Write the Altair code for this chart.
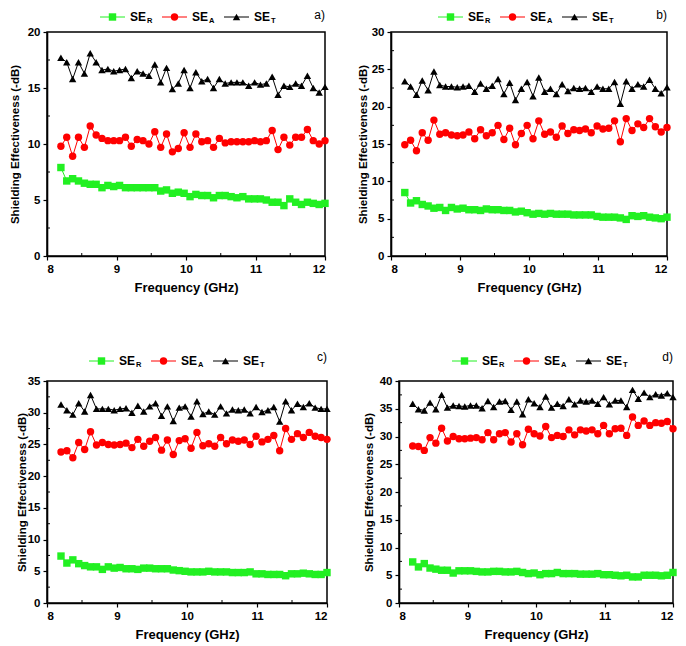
import altair as alt
import pandas as pd

freq = [8.200, 8.284, 8.369, 8.453, 8.538, 8.622, 8.707, 8.791, 8.876, 8.960,
        9.044, 9.129, 9.213, 9.298, 9.382, 9.467, 9.551, 9.636, 9.720, 9.804,
        9.889, 9.973, 10.058, 10.142, 10.227, 10.311, 10.396, 10.480, 10.564, 10.649,
        10.733, 10.818, 10.902, 10.987, 11.071, 11.156, 11.240, 11.324, 11.409, 11.493,
        11.578, 11.662, 11.747, 11.831, 11.916, 12.000]

# panel a
a_R = [7.9, 6.7, 6.9, 6.7, 6.5, 6.4, 6.4, 6.1, 6.3, 6.2, 6.3, 6.1, 6.1, 6.1, 6.1, 6.1, 6.1, 5.8, 5.9, 5.6,
       5.7, 5.6, 5.3, 5.5, 5.4, 5.4, 5.2, 5.4, 5.4, 5.3, 5.2, 5.3, 5.1, 5.1, 5.1, 5.0, 4.8, 4.8, 4.5, 5.1,
       4.8, 4.6, 4.8, 4.7, 4.6, 4.7]
a_A = [9.8, 10.6, 8.9, 10.6, 9.7, 11.6, 10.8, 10.5, 10.3, 10.3, 10.3, 10.6, 9.8, 10.4, 10.3, 10.0, 11.1, 9.7, 10.9, 9.3,
       9.6, 11.0, 9.7, 10.9, 10.2, 10.3, 9.7, 10.5, 10.1, 10.2, 10.2, 10.2, 10.2, 10.3, 10.2, 10.3, 11.2, 9.5, 10.6, 9.9,
       10.6, 10.6, 11.3, 10.3, 10.0, 10.3]
a_T = [17.7, 17.3, 15.8, 17.3, 16.3, 18.1, 17.3, 16.6, 16.7, 16.5, 16.6, 16.7, 15.9, 16.5, 16.3, 16.1, 17.1, 15.5, 16.8, 14.9,
       15.4, 16.6, 15.0, 16.4, 15.6, 15.8, 15.0, 15.8, 15.4, 15.5, 15.5, 15.5, 15.2, 15.5, 15.3, 15.4, 16.0, 14.4, 15.2, 15.1,
       15.4, 15.2, 16.1, 15.0, 14.6, 15.1]
# panel b
b_R = [8.5, 7.1, 7.4, 6.9, 6.7, 6.4, 6.5, 6.1, 6.5, 6.3, 6.4, 6.2, 6.2, 6.1, 6.3, 6.2, 6.2, 6.1, 6.1, 5.9,
       6.0, 5.8, 5.6, 5.7, 5.6, 5.7, 5.6, 5.6, 5.6, 5.5, 5.5, 5.5, 5.5, 5.3, 5.2, 5.2, 5.2, 5.1, 4.9, 5.4,
       5.3, 5.4, 5.2, 5.1, 5.0, 5.2]
b_A = [14.9, 15.5, 14.1, 16.5, 15.5, 18.2, 16.3, 16.5, 16.2, 16.1, 16.2, 16.6, 15.7, 16.9, 16.1, 16.5, 17.5, 15.6, 17.1, 14.9,
       16.4, 17.5, 15.7, 18.1, 16.3, 16.6, 15.9, 17.4, 16.4, 16.9, 16.8, 17.0, 16.5, 17.4, 17.0, 17.1, 18.1, 15.3, 18.4, 16.8,
       17.7, 17.2, 18.4, 17.3, 16.6, 17.2]
b_T = [23.4, 22.7, 21.6, 23.5, 22.2, 24.7, 22.9, 22.7, 22.7, 22.6, 22.7, 22.8, 22.0, 23.1, 22.4, 22.8, 23.7, 21.7, 23.2, 20.9,
       22.4, 23.3, 21.4, 23.9, 22.0, 22.4, 21.7, 23.0, 22.1, 22.5, 22.4, 22.5, 22.0, 22.7, 22.4, 22.4, 23.3, 20.4, 23.4, 22.4,
       23.0, 22.7, 23.6, 22.4, 21.8, 22.6]
# panel c
c_R = [7.4, 6.3, 6.8, 6.2, 5.9, 5.7, 5.7, 5.3, 5.7, 5.5, 5.6, 5.4, 5.4, 5.3, 5.5, 5.5, 5.4, 5.4, 5.4, 5.2,
       5.1, 5.0, 4.9, 4.9, 4.9, 5.0, 4.9, 4.9, 4.9, 4.8, 4.8, 4.8, 4.9, 4.6, 4.6, 4.5, 4.5, 4.5, 4.3, 4.6,
       4.6, 4.7, 4.6, 4.5, 4.5, 4.8]
c_A = [23.8, 24.0, 22.9, 25.3, 24.2, 27.0, 24.9, 25.3, 25.0, 24.9, 25.0, 25.2, 24.5, 25.8, 24.7, 25.5, 26.1, 24.1, 25.7, 23.4,
       25.6, 25.9, 24.4, 26.9, 24.8, 25.1, 24.7, 26.1, 25.1, 25.7, 25.5, 25.7, 25.0, 26.3, 25.4, 25.8, 26.4, 24.0, 27.5, 25.8,
       26.7, 26.1, 26.9, 26.3, 26.1, 25.8]
c_T = [31.3, 30.4, 29.7, 31.5, 30.2, 32.8, 30.6, 30.6, 30.6, 30.4, 30.6, 30.7, 30.0, 31.1, 30.2, 31.0, 31.5, 29.5, 31.0, 28.7,
       30.8, 31.0, 29.4, 31.8, 29.8, 30.2, 29.7, 31.0, 29.9, 30.5, 30.4, 30.5, 29.9, 30.9, 30.1, 30.4, 30.9, 28.6, 31.8, 30.4,
       31.4, 30.9, 31.5, 30.8, 30.6, 30.6]
# panel d
d_R = [7.4, 6.5, 7.1, 6.3, 6.1, 5.9, 5.9, 5.4, 5.8, 5.8, 5.8, 5.7, 5.6, 5.6, 5.7, 5.7, 5.6, 5.6, 5.7, 5.5,
       5.3, 5.4, 5.1, 5.3, 5.3, 5.5, 5.3, 5.3, 5.3, 5.2, 5.2, 5.2, 5.3, 5.1, 5.1, 5.0, 4.9, 5.0, 4.7, 4.7,
       5.0, 5.0, 5.0, 4.9, 5.0, 5.5]
d_A = [28.3, 28.2, 27.5, 29.8, 28.8, 31.5, 29.2, 30.0, 29.6, 29.6, 29.7, 29.8, 29.4, 30.7, 29.4, 30.5, 30.7, 29.0, 30.5, 28.5,
       31.3, 30.5, 30.1, 31.8, 29.8, 30.2, 30.0, 31.2, 30.3, 31.2, 31.0, 31.2, 30.5, 32.0, 30.5, 31.4, 31.5, 30.2, 33.5, 32.0,
       32.8, 32.0, 32.5, 32.4, 32.7, 31.4]
d_T = [35.9, 34.9, 34.7, 36.1, 34.9, 37.5, 35.2, 35.6, 35.5, 35.4, 35.6, 35.6, 35.1, 36.4, 35.3, 36.3, 36.4, 34.8, 36.3, 34.0,
       36.7, 36.0, 35.3, 37.2, 35.2, 35.9, 35.5, 36.7, 35.8, 36.5, 36.3, 36.5, 35.9, 37.1, 35.8, 36.5, 36.5, 35.3, 38.4, 36.8,
       37.9, 37.1, 37.6, 37.4, 37.8, 37.1]

series_names = ["SE_R", "SE_A", "SE_T"]
legend_main = ["SE", "SE", "SE"]
legend_sub = ["R", "A", "T"]
x_ticks = [8, 9, 10, 11, 12]
x_minor = [8.5, 9.5, 10.5, 11.5]

GREEN = "#22f022"
RED = "#ff0000"
BLACK = "#000000"
colors = [GREEN, RED, BLACK]
shapes = ["square", "circle", "triangle-up"]
FONT = "Liberation Sans"
MSIZE = 55


def make_panel(R, A, T, ymax, W, H, label, leg_start, leg_y, lab_y, tp):
    rows = []
    for name, vals in zip(series_names, [R, A, T]):
        for f, v in zip(freq, vals):
            rows.append({"freq": f, "val": v, "series": name})
    df = pd.DataFrame(rows)

    xenc = alt.X("freq:Q", scale=alt.Scale(domain=[8, 12], nice=False),
                 axis=alt.Axis(values=x_ticks, format="d", title="Frequency (GHz)", titlePadding=7))
    yticks = list(range(0, ymax + 1, 5))
    yenc = alt.Y("val:Q", scale=alt.Scale(domain=[0, ymax], nice=False),
                 axis=alt.Axis(values=yticks, format="d", title="Shielding Effectiveness (-dB)",
                               titlePadding=tp, titleFontSize=11.5))
    cenc = alt.Color("series:N", scale=alt.Scale(domain=series_names, range=colors), legend=None)
    senc = alt.Shape("series:N", scale=alt.Scale(domain=series_names, range=shapes), legend=None)

    lines = alt.Chart(df).mark_line(strokeWidth=1).encode(x=xenc, y=yenc, color=cenc)
    pts = alt.Chart(df).mark_point(filled=True, size=MSIZE, opacity=1).encode(
        x=xenc, y=yenc, color=cenc, shape=senc)

    mx = pd.DataFrame({"freq": x_minor})
    minor_x = alt.Chart(mx).mark_rule(color="black", strokeWidth=1).encode(
        x=xenc, y=alt.value(H), y2=alt.value(H - 3))
    y_minor = [v + 2.5 for v in yticks[:-1]]
    my = pd.DataFrame({"val": y_minor})
    minor_y = alt.Chart(my).mark_rule(color="black", strokeWidth=1).encode(
        y=yenc, x=alt.value(0), x2=alt.value(3))

    layers = [lines, pts, minor_x, minor_y]
    one = alt.Data(values=[{}])
    for i in range(3):
        x0 = leg_start + i * 62
        layers.append(alt.Chart(one).mark_rule(color=colors[i], strokeWidth=1).encode(
            x=alt.value(x0), x2=alt.value(x0 + 25), y=alt.value(leg_y)))
        layers.append(alt.Chart(one).mark_point(filled=True, size=MSIZE, opacity=1, color=colors[i],
                                                shape=shapes[i]).encode(
            x=alt.value(x0 + 12.5), y=alt.value(leg_y)))
        layers.append(alt.Chart(one).mark_text(text=legend_main[i], align="left", baseline="middle",
                                               font=FONT, fontSize=12, fontWeight="bold",
                                               color="black").encode(
            x=alt.value(x0 + 30), y=alt.value(leg_y)))
        layers.append(alt.Chart(one).mark_text(text=legend_sub[i], align="left", baseline="middle",
                                               font=FONT, fontSize=7.5, fontWeight="bold",
                                               color="black").encode(
            x=alt.value(x0 + 47), y=alt.value(leg_y + 4)))
    layers.append(alt.Chart(one).mark_text(text=label, align="right", baseline="middle",
                                           font=FONT, fontSize=12, color="black").encode(
        x=alt.value(W), y=alt.value(lab_y)))
    return alt.layer(*layers).properties(width=W, height=H)


pa = make_panel(a_R, a_A, a_T, 20, 278, 224, "a)", 53, -15, -17, 7)
pb = make_panel(b_R, b_A, b_T, 30, 276, 224, "b)", 47, -15, -17, 3)
pc = make_panel(c_R, c_A, c_T, 35, 280, 222, "c)", 42, -20, -24, 0)
pd_ = make_panel(d_R, d_A, d_T, 40, 274, 222, "d)", 53, -20, -24, 5)

chart = alt.vconcat(
    alt.hconcat(pa, pb, spacing=26),
    alt.hconcat(pc, pd_, spacing=30),
    spacing=54,
).properties(padding=0).configure_view(
    stroke="black", strokeWidth=1.5
).configure_axis(
    grid=False, domainColor="black", domainWidth=1.6, tickColor="black", tickSize=4,
    tickWidth=1.2, labelFont=FONT, labelFontSize=11.5, labelFontWeight="bold", labelColor="black",
    labelPadding=3, titleFont=FONT, titleFontSize=13, titleFontWeight="bold", titleColor="black"
)

chart.save("out.html", embed_options={"renderer": "svg", "actions": False})
